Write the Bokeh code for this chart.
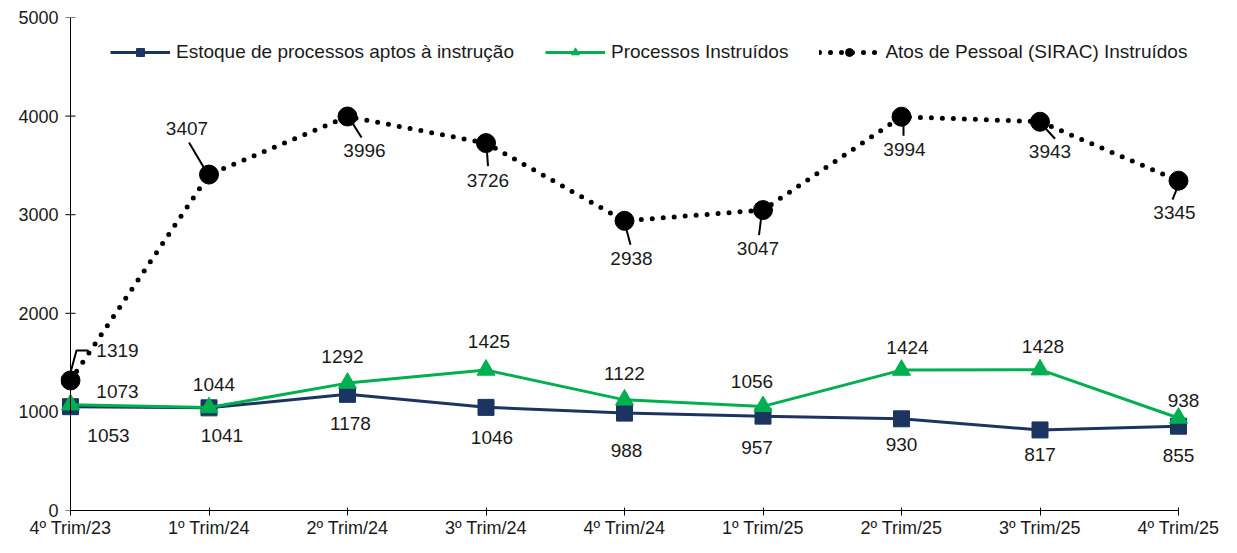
from bokeh.plotting import figure
from bokeh.models import Range1d, FixedTicker, Legend, LegendItem, ColumnDataSource, Span
from bokeh.core.properties import value
from bokeh.embed import file_html
from bokeh.resources import INLINE

# ---- data ----
categories = ["4º Trim/23", "1º Trim/24", "2º Trim/24", "3º Trim/24", "4º Trim/24",
              "1º Trim/25", "2º Trim/25", "3º Trim/25", "4º Trim/25"]
estoque = [1053, 1041, 1178, 1046, 988, 957, 930, 817, 855]
processos = [1073, 1044, 1292, 1425, 1122, 1056, 1424, 1428, 938]
atos = [1319, 3407, 3996, 3726, 2938, 3047, 3994, 3943, 3345]
y_ticks = [0, 1000, 2000, 3000, 4000, 5000]
series_names = ["Estoque de processos aptos à instrução", "Processos Instruídos",
                "Atos de Pessoal (SIRAC) Instruídos"]

# ---- label placement (screen px offsets from each point) ----
atos_off = [(47, -30), (-22, -46), (17, 34), (2, 37), (7, 38), (-5, 38), (3, 33), (10, 30), (-4, 32)]
proc_off = [(47, -13), (5, -23), (-5, -27), (3, -28), (0, -26), (-11, -25), (6, -23), (3, -23), (5, -18)]
est_off = [(38, 29), (13, 28), (3, 29), (6, 30), (2, 37), (-6, 31), (0, 26), (0, 25), (0, 29)]
atos_leaders = [
    [(0, -8), (6, -30), (18, -30)],
    [(-20, -32), (-4, -5)],
    [(4, 5), (14, 21)],
    [(1, 9), (2, 23)],
    [(2, 9), (6, 24)],
    [(-2, 9), (-4, 25)],
    [(2, 7), (2, 19)],
    [(4, 5), (15, 17)],
    [(-2, 9), (-6, 19)],
]

NAVY = "#1b3560"
GREEN = "#00b050"
TXT = "#1a1a1a"
FONT = "Liberation Sans"
FS = "19px"
FS_AX = "18px"

AXIS_X = 70          # screen x of the y axis (x = first category)
LEFT, TOP, BOTTOM = 60, 17, 27
FRAME_W, FRAME_H = 1221 - LEFT, 493
px_x = 138.5
px_y = FRAME_H / 5000.0
n = len(categories)
x_start = -(AXIS_X - LEFT) / px_x

p = figure(frame_width=FRAME_W, frame_height=FRAME_H, output_backend="svg",
           toolbar_location=None, x_range=Range1d(x_start, x_start + FRAME_W / px_x),
           y_range=Range1d(0, 5000), min_border_left=LEFT, min_border_right=0,
           min_border_top=TOP, min_border_bottom=BOTTOM)
p.background_fill_color = "white"
p.border_fill_color = "white"
p.outline_line_color = None
p.xgrid.visible = False
p.ygrid.visible = False

xs = list(range(n))

# x axis
p.xaxis.ticker = FixedTicker(ticks=xs)
p.xaxis.bounds = (0, n - 1)
p.xaxis.major_label_overrides = {i: c for i, c in enumerate(categories)}
p.xaxis.minor_tick_line_color = None
p.xaxis.axis_line_color = "black"
p.xaxis.major_tick_line_color = "black"
p.xaxis.major_tick_out = 5
p.xaxis.major_tick_in = 3
p.xaxis.major_label_standoff = 2

# y axis: labels from the axis, line and ticks at the first category
p.yaxis.ticker = FixedTicker(ticks=y_ticks)
p.yaxis.minor_tick_line_color = None
p.yaxis.axis_line_color = None
p.yaxis.major_tick_line_color = None
p.yaxis.major_tick_out = 0
p.yaxis.major_tick_in = 0
p.yaxis.major_label_standoff = 2
for ax in (p.xaxis, p.yaxis):
    ax.major_label_text_font = FONT
    ax.major_label_text_font_size = FS_AX
    ax.major_label_text_color = TXT

p.add_layout(Span(location=0, dimension="height", line_color="black", line_width=1))
tick_half = 5 / px_x
p.segment(x0=[-tick_half] * len(y_ticks), y0=y_ticks, x1=[tick_half] * len(y_ticks),
          y1=y_ticks, line_color="black", line_width=1)

# series
l1 = p.line(xs, estoque, line_color=NAVY, line_width=3)
m1 = p.scatter(xs, estoque, marker="square", size=16, fill_color=NAVY, line_color=NAVY)
l2 = p.line(xs, processos, line_color=GREEN, line_width=3)
m2 = p.scatter(xs, processos, marker="triangle", size=18, fill_color=GREEN, line_color=GREEN)
l3 = p.line(xs, atos, line_color="black", line_width=5, line_dash="0 11", line_cap="round")
m3 = p.scatter(xs, atos, marker="circle", size=19, fill_color="black", line_color="black")

# leader lines for Atos labels
lx, ly = [], []
for i, pts in enumerate(atos_leaders):
    lx.append([xs[i] + dx / px_x for dx, dy in pts])
    ly.append([atos[i] - dy / px_y for dx, dy in pts])
p.multi_line(lx, ly, line_color="black", line_width=2)

# data labels
def add_labels(vals, offs):
    src = ColumnDataSource(dict(x=xs, y=vals, t=[str(v) for v in vals],
                                dx=[o[0] for o in offs], dy=[o[1] for o in offs]))
    p.text(x="x", y="y", text="t", x_offset="dx", y_offset="dy", source=src,
           text_font=value(FONT), text_font_size=FS, text_color=TXT,
           text_align="center", text_baseline="middle")

add_labels(atos, atos_off)
add_labels(processos, proc_off)
add_labels(estoque, est_off)

legend = Legend(items=[
    LegendItem(label=series_names[0], renderers=[l1, m1]),
    LegendItem(label=series_names[1], renderers=[l2, m2]),
    LegendItem(label=series_names[2], renderers=[l3, m3]),
], location=(112 - LEFT - 2, FRAME_H + TOP - 63), orientation="horizontal")
legend.glyph_width = 60
legend.glyph_height = 20
legend.label_standoff = 6
legend.spacing = 31
legend.padding = 0
legend.margin = 0
legend.border_line_color = None
legend.background_fill_alpha = 0
legend.label_text_font = FONT
legend.label_text_font_size = FS
legend.label_text_color = TXT
p.add_layout(legend, "center")

open("out.html", "w").write(file_html(p, INLINE))
